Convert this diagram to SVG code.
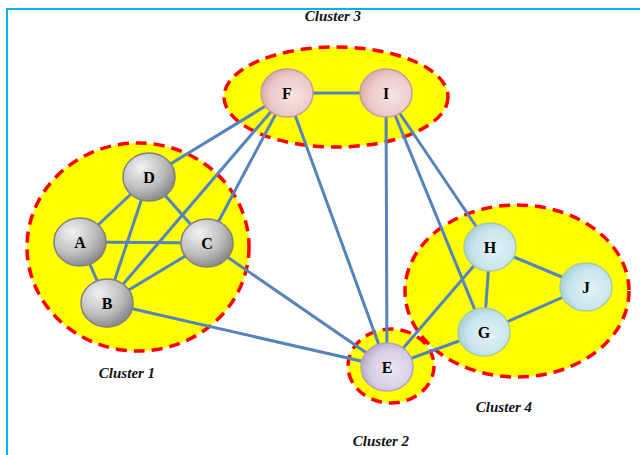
<svg xmlns="http://www.w3.org/2000/svg" width="640" height="455" viewBox="0 0 640 455">
<defs>
<radialGradient id="gGray" cx="0.35" cy="0.3" r="0.75">
<stop offset="0" stop-color="#f2f2f2"/><stop offset="0.6" stop-color="#bdbdbd"/><stop offset="1" stop-color="#858585"/>
</radialGradient>
<radialGradient id="gPink" cx="0.6" cy="0.55" r="0.7">
<stop offset="0" stop-color="#f6e4e4"/><stop offset="0.6" stop-color="#ecc9c9"/><stop offset="1" stop-color="#cf9a9a"/>
</radialGradient>
<radialGradient id="gBlue" cx="0.6" cy="0.55" r="0.7">
<stop offset="0" stop-color="#e2f2f6"/><stop offset="0.6" stop-color="#c8e4ec"/><stop offset="1" stop-color="#95c3d1"/>
</radialGradient>
<radialGradient id="gPurple" cx="0.6" cy="0.55" r="0.7">
<stop offset="0" stop-color="#ece6f2"/><stop offset="0.6" stop-color="#d6cde3"/><stop offset="1" stop-color="#a998be"/>
</radialGradient>
</defs>
<style>
.cluster{fill:#ffff00;stroke:#ff0000;stroke-width:3.5;stroke-dasharray:11 7}
.edge{stroke:#5583bb;stroke-width:3;fill:none}
.node{stroke-width:1.5}
.gray{fill:url(#gGray);stroke:#7f7f7f}
.pink{fill:url(#gPink);stroke:#c79a9a}
.blue{fill:url(#gBlue);stroke:#a9c9a0}
.purple{fill:url(#gPurple);stroke:#b0a0c0}
.nl{font-family:"Liberation Serif",serif;font-weight:bold;font-size:16px;text-anchor:middle;fill:#000}
.cl{font-family:"Liberation Serif",serif;font-weight:bold;font-style:italic;font-size:15px;text-anchor:middle;fill:#111}
</style>
<rect width="640" height="455" fill="#ffffff"/>
<rect x="7" y="9" width="650" height="460" fill="none" stroke="#00b0f0" stroke-width="2"/>
<g id="clusters">
<ellipse class="cluster" cx="336" cy="97" rx="112" ry="50"/>
<ellipse class="cluster" cx="138" cy="247" rx="111" ry="104"/>
<ellipse class="cluster" cx="517" cy="291" rx="112" ry="86"/>
<ellipse class="cluster" cx="391" cy="366" rx="43" ry="37"/>
</g>
<g id="connectors">
<line class="edge" x1="287" y1="93" x2="386" y2="93"/>
<line class="edge" x1="287" y1="93" x2="149" y2="177"/>
<line class="edge" x1="287" y1="93" x2="107" y2="303"/>
<line class="edge" x1="287" y1="93" x2="207" y2="243"/>
<line class="edge" x1="287" y1="93" x2="387" y2="367"/>
<line class="edge" x1="386" y1="93" x2="387" y2="367"/>
<line class="edge" x1="386" y1="93" x2="484" y2="332"/>
<line class="edge" x1="386" y1="93" x2="490" y2="247"/>
<line class="edge" x1="149" y1="177" x2="80" y2="242"/>
<line class="edge" x1="149" y1="177" x2="107" y2="303"/>
<line class="edge" x1="149" y1="177" x2="207" y2="243"/>
<line class="edge" x1="80" y1="242" x2="207" y2="243"/>
<line class="edge" x1="80" y1="242" x2="107" y2="303"/>
<line class="edge" x1="107" y1="303" x2="207" y2="243"/>
<line class="edge" x1="107" y1="303" x2="387" y2="367"/>
<line class="edge" x1="207" y1="243" x2="387" y2="367"/>
<line class="edge" x1="490" y1="247" x2="387" y2="367"/>
<line class="edge" x1="484" y1="332" x2="387" y2="367"/>
<line class="edge" x1="490" y1="247" x2="484" y2="332"/>
<line class="edge" x1="490" y1="247" x2="586" y2="287"/>
<line class="edge" x1="484" y1="332" x2="586" y2="287"/>
</g>
<g id="node-F"><ellipse class="node pink" cx="287" cy="93" rx="26" ry="24"/><text class="nl" x="287" y="99">F</text></g>
<g id="node-I"><ellipse class="node pink" cx="386" cy="93" rx="26" ry="24"/><text class="nl" x="386" y="99">I</text></g>
<g id="node-D"><ellipse class="node gray" cx="149" cy="177" rx="26" ry="24"/><text class="nl" x="149" y="183">D</text></g>
<g id="node-A"><ellipse class="node gray" cx="80" cy="242" rx="26" ry="24"/><text class="nl" x="80" y="248">A</text></g>
<g id="node-C"><ellipse class="node gray" cx="207" cy="243" rx="26" ry="24"/><text class="nl" x="207" y="249">C</text></g>
<g id="node-B"><ellipse class="node gray" cx="107" cy="303" rx="26" ry="24"/><text class="nl" x="107" y="309">B</text></g>
<g id="node-H"><ellipse class="node blue" cx="490" cy="247" rx="26" ry="24"/><text class="nl" x="490" y="253">H</text></g>
<g id="node-J"><ellipse class="node blue" cx="586" cy="287" rx="26" ry="24"/><text class="nl" x="586" y="293">J</text></g>
<g id="node-G"><ellipse class="node blue" cx="484" cy="332" rx="26" ry="24"/><text class="nl" x="484" y="338">G</text></g>
<g id="node-E"><ellipse class="node purple" cx="387" cy="367" rx="26" ry="24"/><text class="nl" x="387" y="373">E</text></g>
<g id="labels">
<text class="cl" x="333" y="21">Cluster 3</text>
<text class="cl" x="127" y="378">Cluster 1</text>
<text class="cl" x="504" y="412">Cluster 4</text>
<text class="cl" x="381" y="446">Cluster 2</text>
</g>
</svg>
